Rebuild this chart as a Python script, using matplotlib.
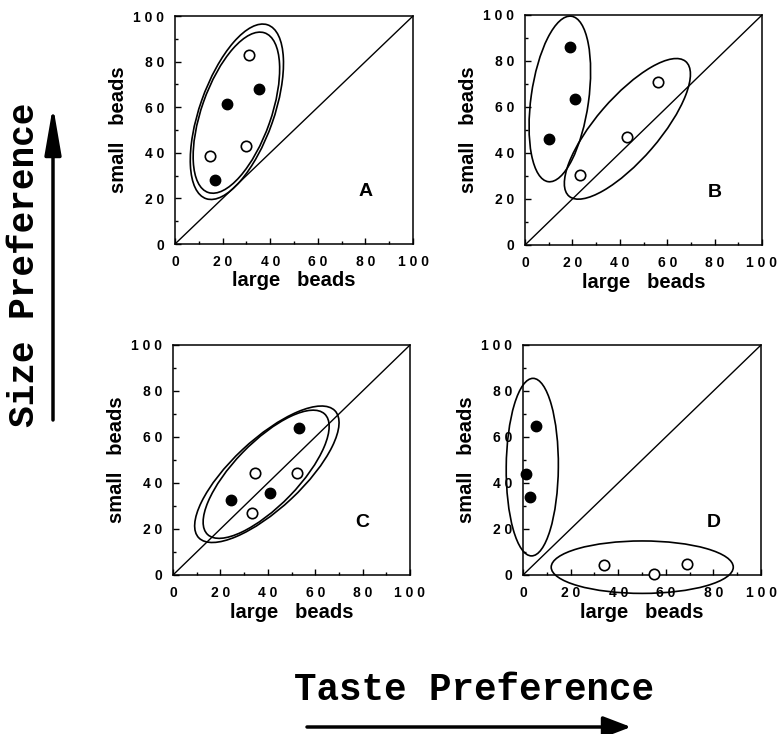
import matplotlib.pyplot as plt
from matplotlib.patches import Ellipse, FancyArrowPatch
from matplotlib.ticker import FixedLocator, FixedFormatter, MultipleLocator

# percentage of choices: x = large beads, y = small beads
panel_names = ["A", "B", "C", "D"]

a_filled_x = [17, 22, 35.5]
a_filled_y = [28, 61.5, 68]
a_open_x = [14.5, 31, 30]
a_open_y = [38.5, 83, 43]

b_filled_x = [19, 21, 10]
b_filled_y = [86, 63.5, 46]
b_open_x = [56, 43, 23]
b_open_y = [71, 47, 30.5]

c_filled_x = [53, 24.5, 41]
c_filled_y = [64, 32.5, 35.5]
c_open_x = [34.5, 52.5, 33.5]
c_open_y = [44.5, 44.5, 27]

d_filled_x = [5.3, 1.1, 2.8]
d_filled_y = [64.8, 44, 34]
d_open_x = [34, 55, 69]
d_open_y = [4.2, 0.5, 5]

# group ellipses: centre x, centre y, major, minor, angle (deg)
a_ellipses = [(26, 58, 80.5, 31.2, 71.4), (25.8, 57.6, 73.9, 29.2, 71.4)]
b_ellipses = [(14.7, 63.5, 72.6, 24.3, 82.3), (43.2, 50.5, 76.5, 26.8, 50.1)]
c_ellipses = [(39.6, 43.8, 79.7, 29.7, 44), (39.3, 43.8, 72, 27.4, 46.8)]
d_ellipses = [(3.9, 46.9, 77.2, 21.9, 89.5), (50.1, 3.4, 76.5, 22.8, 0)]

tick_values = [0, 20, 40, 60, 80, 100]
tick_labels = ["0", "2 0", "4 0", "6 0", "8 0", "1 0 0"]

panels = [
    (a_filled_x, a_filled_y, a_open_x, a_open_y, a_ellipses),
    (b_filled_x, b_filled_y, b_open_x, b_open_y, b_ellipses),
    (c_filled_x, c_filled_y, c_open_x, c_open_y, c_ellipses),
    (d_filled_x, d_filled_y, d_open_x, d_open_y, d_ellipses),
]

W, H = 778, 734
fig = plt.figure(figsize=(W / 100, H / 100), dpi=100)

# axes boxes in pixels: left, top, width, height
boxes = [(175, 16, 238, 228), (525, 15, 237, 230),
         (173, 345, 237, 230), (523, 345, 238, 230)]

sans = "Liberation Sans"

for name, box, (fx, fy, ox, oy, ells) in zip(panel_names, boxes, panels):
    l, t, w, h = box
    ax = fig.add_axes([l / W, 1 - (t + h) / H, w / W, h / H])
    ax.set_xlim(0, 100)
    ax.set_ylim(0, 100)

    ax.plot([0, 100], [0, 100], color="black", lw=1.0, zorder=2)
    for cx, cy, ew, eh, ang in ells:
        ax.add_patch(Ellipse((cx, cy), ew, eh, angle=ang, fill=False,
                             edgecolor="black", lw=1.2, clip_on=False, zorder=4))
    ax.plot(fx, fy, "o", ms=7.5, color="black", zorder=5, clip_on=False)
    ax.plot(ox, oy, "o", ms=7.5, mfc="white", mec="black", mew=1.2,
            zorder=5, clip_on=False)

    ax.text(80, 23, name, fontsize=14, fontweight="bold", family=sans,
            ha="center", va="center")

    for axis in (ax.xaxis, ax.yaxis):
        axis.set_major_locator(FixedLocator(tick_values))
        axis.set_major_formatter(FixedFormatter(tick_labels))
        axis.set_minor_locator(MultipleLocator(10))
    ax.tick_params(which="both", direction="in", width=1.0)
    ax.tick_params(which="major", length=4)
    ax.tick_params(which="minor", length=2.5)
    ax.tick_params(axis="x", pad=8)
    ax.tick_params(axis="y", pad=8)
    for lab in ax.get_xticklabels() + ax.get_yticklabels():
        lab.set_fontsize(10)
        lab.set_fontweight("bold")
        lab.set_family(sans)
    for sp in ax.spines.values():
        sp.set_linewidth(1.1)

    ax.set_xlabel("large   beads", fontsize=14.5, fontweight="bold", family=sans)
    ax.set_ylabel("small   beads", fontsize=14.5, fontweight="bold", family=sans)
    ax.xaxis.label.set_va("center")
    ax.yaxis.label.set_va("center")
    ax.xaxis.set_label_coords(0.5, -37 / h)
    ax.yaxis.set_label_coords(-56 / w, 0.5)

mono = "Liberation Mono"
fig.text(25 / W, 1 - 265 / H, "Size Preference", rotation=90, fontsize=26,
         fontweight="bold", family=mono, ha="center", va="center")
fig.text(474 / W, 1 - 690 / H, "Taste Preference", fontsize=27,
         fontweight="bold", family=mono, ha="center", va="center")

fig.add_artist(FancyArrowPatch((53 / W, 1 - 420 / H), (53 / W, 1 - 106 / H),
                               transform=fig.transFigure,
                               arrowstyle="-|>,head_length=2.9,head_width=0.5",
                               mutation_scale=10, lw=2.5, color="black",
                               shrinkA=0, shrinkB=0))
fig.add_artist(FancyArrowPatch((307 / W, 1 - 727 / H), (631 / W, 1 - 727 / H),
                               transform=fig.transFigure,
                               arrowstyle="-|>,head_length=1.7,head_width=0.65",
                               mutation_scale=10, lw=2.5, color="black",
                               shrinkA=0, shrinkB=0))

fig.savefig("out.png", dpi=100, facecolor="white")
